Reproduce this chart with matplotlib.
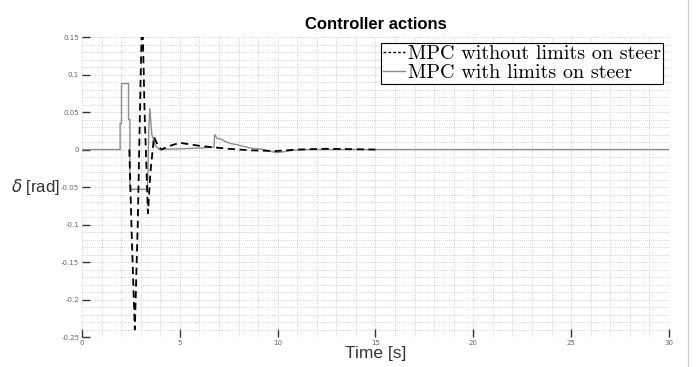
import matplotlib
matplotlib.use('Agg')
import matplotlib.pyplot as plt
from matplotlib.lines import Line2D
from matplotlib.ticker import MultipleLocator, FixedLocator, FixedFormatter

# MPC without limits on steer (black dashed)
t_free = [2.42, 2.55, 2.7, 2.85, 3.0, 3.08, 3.2, 3.37, 3.5, 3.68, 3.85, 4.05, 4.5, 5.0, 5.5, 6.0,
          6.7, 7.5, 8.6, 9.9, 11.0, 12.5, 15.0]
d_free = [0, -0.12, -0.24, -0.1, 0.1, 0.19, 0.05, -0.085, -0.03, 0.017, 0.007, 0.0, 0.005, 0.009, 0.007, 0.005,
          0.003, 0.001, -0.001, -0.002, 0.0, 0.001, 0.0]

# MPC with limits on steer (grey solid)
t_lim = [0, 1.95, 1.95, 2.02, 2.02, 2.38, 2.38, 2.45, 2.45, 3.35, 3.42, 3.47, 3.52, 3.57, 3.75, 3.95,
         5.0, 6.0, 6.75, 6.78, 6.9, 7.1, 7.3, 7.6, 8.0, 8.6, 9.3, 9.9, 10.3, 10.8, 11.5, 12.5, 30]
d_lim = [0, 0, 0.035, 0.035, 0.088, 0.088, 0.04, 0.04, -0.053, -0.053, 0.03, 0.055, 0.036, 0.02, 0.005, 0.0,
         0.001, 0.002, 0.003, 0.02, 0.015, 0.014, 0.011, 0.008, 0.006, 0.002, 0.0, -0.004, -0.003, -0.001, 0.0, 0.0, 0.0]

yticks = [-0.25, -0.2, -0.15, -0.1, -0.05, 0, 0.05, 0.1, 0.15]
ytick_labels = ['-0.25', '-0.2', '-0.15', '-0.1', '-0.05', '0', '0.05', '0.1', '0.15']
xticks = [0, 5, 10, 15, 20, 25, 30]

fig = plt.figure(figsize=(6.97, 3.67), dpi=100)
ax = fig.add_axes([0.1176, 0.0817, 0.8422, 0.8173])

ax.plot(t_lim, d_lim, color='#8c8c8c', lw=1.0, label='MPC with limits on steer')
ax.plot(t_free, d_free, color='black', lw=1.3, ls=(0, (4, 2.5)), label='MPC without limits on steer')

ax.set_xlim(0, 30)
ax.set_ylim(-0.25, 0.15)
ax.xaxis.set_major_locator(FixedLocator(xticks))
ax.yaxis.set_major_locator(FixedLocator(yticks))
ax.yaxis.set_major_formatter(FixedFormatter(ytick_labels))
ax.xaxis.set_minor_locator(MultipleLocator(1))
ax.yaxis.set_minor_locator(MultipleLocator(0.01))
ax.grid(which='both', color='#c4c4c4', ls=(0, (1, 1.5)), lw=0.6)
ax.tick_params(which='major', direction='in', length=6, width=1.0, color='#333333',
               labelsize=5, labelcolor='#666666', pad=2)
ax.tick_params(which='minor', length=0)
for s in ax.spines.values():
    s.set_visible(False)

ax.set_title('Controller actions', fontsize=12, fontweight='bold', family='Liberation Sans', pad=6)
ax.set_xlabel('Time [s]', fontsize=12.5, family='Liberation Sans', color='#333333', labelpad=0)
ax.set_ylabel(r'$\delta$ [rad]', fontsize=12, family='Liberation Sans', color='#333333',
              rotation=0, ha='right', va='center')
ax.yaxis.set_label_coords(-0.038, 0.5)

h = [Line2D([], [], color='black', lw=1.0, ls=(0, (2, 1.5))),
     Line2D([], [], color='#8c8c8c', lw=1.0)]
leg = ax.legend(h, ['MPC without limits on steer', 'MPC with limits on steer'], loc='upper right',
                prop={'family': 'cmr10', 'size': 14.5}, handlelength=1.1, handletextpad=0.15,
                borderpad=0.1, labelspacing=0.05, borderaxespad=0.3, fancybox=False, framealpha=1)
leg.get_frame().set_edgecolor('black')
leg.get_frame().set_linewidth(0.8)

fig.add_artist(Line2D([688 / 697, 688 / 697], [0, 1], color='#cccccc', lw=1.0))

fig.savefig('out.png', dpi=100)
